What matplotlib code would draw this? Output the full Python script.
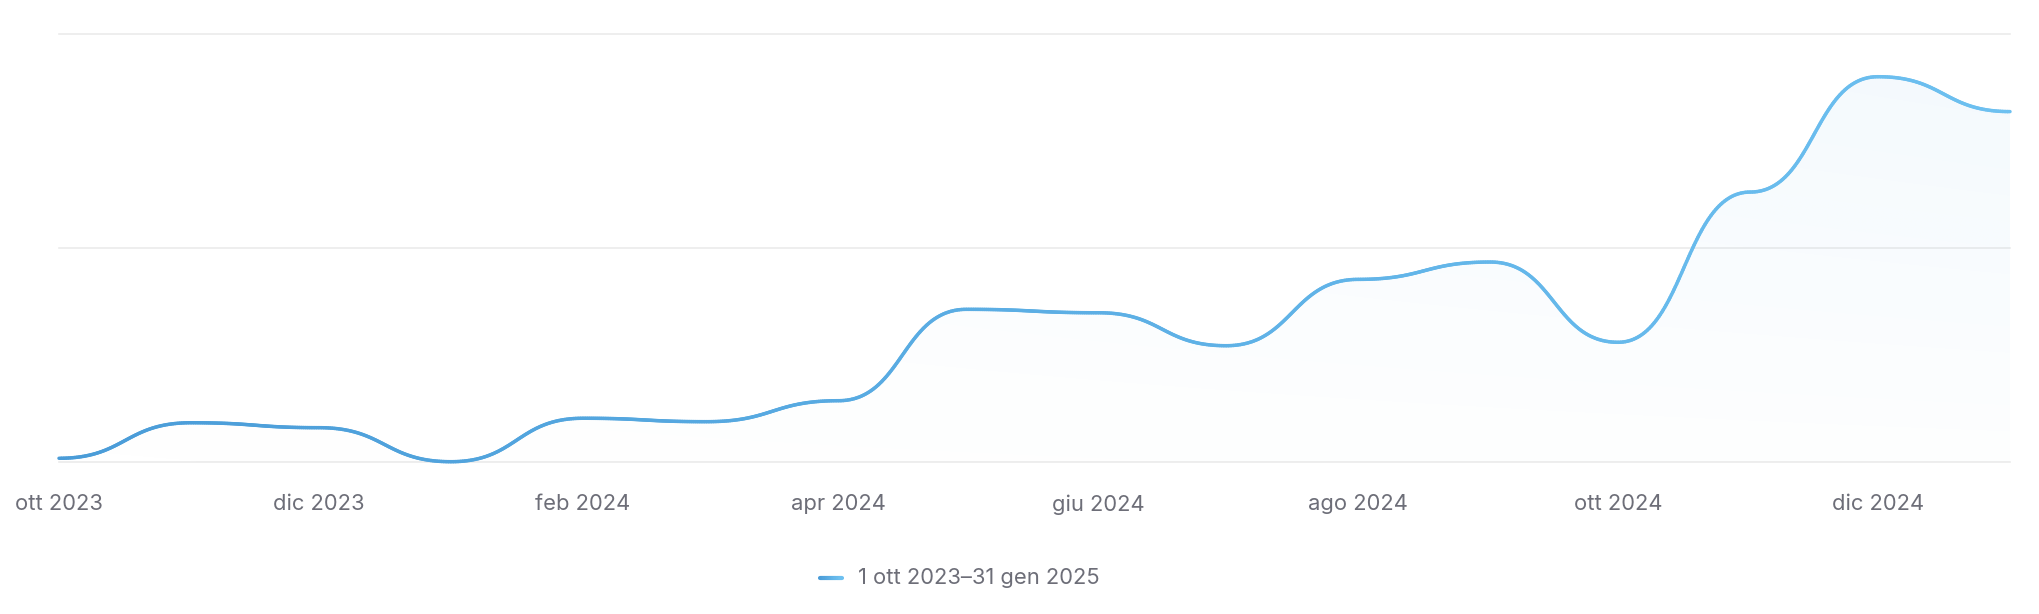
import numpy as np
import pandas as pd
import matplotlib
matplotlib.use("Agg")
import matplotlib.pyplot as plt
import matplotlib.dates as mdates
from matplotlib.collections import LineCollection
from matplotlib.colors import to_rgb

# ---------------- data ----------------
months = ["2023-10-01", "2023-11-01", "2023-12-01", "2024-01-01", "2024-02-01",
          "2024-03-01", "2024-04-01", "2024-05-01", "2024-06-01", "2024-07-01",
          "2024-08-01", "2024-09-01", "2024-10-01", "2024-11-01", "2024-12-01",
          "2025-01-01"]
values = [1.6, 18.2, 15.9, 0.0, 20.3, 18.7, 28.5, 71.2, 69.6, 54.2,
          85.2, 93.3, 55.8, 126.0, 179.9, 163.6]
tick_dates = ["2023-10-01", "2023-12-01", "2024-02-01", "2024-04-01",
              "2024-06-01", "2024-08-01", "2024-10-01", "2024-12-01"]
tick_labels = ["ott 2023", "dic 2023", "feb 2024", "apr 2024",
               "giu 2024", "ago 2024", "ott 2024", "dic 2024"]
y_grid = [0, 100, 200]
legend_label = "1 ott 2023\u201331 gen 2025"

# ---------------- style ----------------
plt.rcParams['font.family'] = ['Inter', 'DejaVu Sans']
TEXT = '#6d6e78'
GRID = '#ebebeb'
C_LEFT = '#4a9cd8'
C_RIGHT = '#6dc0f0'
FS = 15.8

W, H = 2040, 614
fig = plt.figure(figsize=(W / 100, H / 100), dpi=100)
x0p, x1p = 59, 2010
ytop, ybot = 33.7, 461.7
ax = fig.add_axes([x0p / W, (H - ybot) / H, (x1p - x0p) / W, (ybot - ytop) / H])

xd = mdates.date2num(pd.to_datetime(months))
yv = np.array(values, dtype=float)


def bump_x(x, y, n=80):
    """Cubic Bezier between points with horizontal tangents (bump-X curve)."""
    xs, ys = [], []
    m = len(x)
    for i in range(m - 1):
        u = np.linspace(0, 1, n, endpoint=(i == m - 2))
        xm = (x[i] + x[i + 1]) / 2
        px = [x[i], xm, xm, x[i + 1]]
        py = [y[i], y[i], y[i + 1], y[i + 1]]
        b0 = (1 - u) ** 3
        b1 = 3 * u * (1 - u) ** 2
        b2 = 3 * u ** 2 * (1 - u)
        b3 = u ** 3
        xs.append(b0 * px[0] + b1 * px[1] + b2 * px[2] + b3 * px[3])
        ys.append(b0 * py[0] + b1 * py[1] + b2 * py[2] + b3 * py[3])
    return np.concatenate(xs), np.concatenate(ys)


xs, ys = bump_x(xd, yv)

ax.set_xlim(xd[0], xd[-1])
ax.set_ylim(y_grid[0], y_grid[-1])
for s in ax.spines.values():
    s.set_visible(False)
ax.set_yticks([])

for g in y_grid:
    ax.axhline(g, color=GRID, lw=1.2, zorder=0, clip_on=False)

# gradient fill under curve
poly = ax.fill_between(xs, ys, y_grid[0], color='none', lw=0)
nx, ny = 400, 200
gx = np.linspace(0, 1, nx)[None, :]
gy = np.linspace(1, 0, ny)[:, None]
alpha = 0.075 * (0.3 + 0.7 * gx) * (0.15 + 0.85 * gy)
rgb = np.array(to_rgb('#5aaee8'))
img = np.zeros((ny, nx, 4))
img[..., :3] = rgb
img[..., 3] = alpha
im = ax.imshow(img, extent=[xd[0], xd[-1], y_grid[0], y_grid[-1]], aspect='auto',
               origin='upper', zorder=1, interpolation='bilinear')
paths = poly.get_paths()
if paths:
    im.set_clip_path(paths[0], transform=ax.transData)

# gradient line
pts = np.column_stack([xs, ys])
segs = np.stack([pts[:-1], pts[1:]], axis=1)
f = (xs[:-1] - xs[0]) / (xs[-1] - xs[0])
cl, cr = np.array(to_rgb(C_LEFT)), np.array(to_rgb(C_RIGHT))
cols = cl[None, :] * (1 - f[:, None]) + cr[None, :] * f[:, None]
lc = LineCollection(segs, colors=cols, linewidths=2.5, capstyle='round',
                    joinstyle='round', zorder=3, clip_on=False)
ax.add_collection(lc)

# x ticks
ax.set_xticks(mdates.date2num(pd.to_datetime(tick_dates)))
ax.set_xticklabels(tick_labels, fontsize=FS, color=TEXT)
ax.tick_params(axis='x', length=0, pad=23.5)

# legend
ly = (H - 578) / H
lx0, lx1 = 820 / W, 842 / W
lseg = []
lcol = []
nseg = 10
for i in range(nseg):
    a = lx0 + (lx1 - lx0) * i / nseg
    b = lx0 + (lx1 - lx0) * (i + 1) / nseg
    lseg.append([(a, ly), (b, ly)])
    ff = i / (nseg - 1)
    lcol.append(cl * (1 - ff) + cr * ff)
leg = LineCollection(lseg, colors=lcol, linewidths=3, capstyle='round',
                     transform=fig.transFigure)
fig.add_artist(leg)
fig.text(858 / W, ly, legend_label, fontsize=FS, color=TEXT, va='center', ha='left')

fig.savefig('out.png', dpi=100, facecolor='white')
